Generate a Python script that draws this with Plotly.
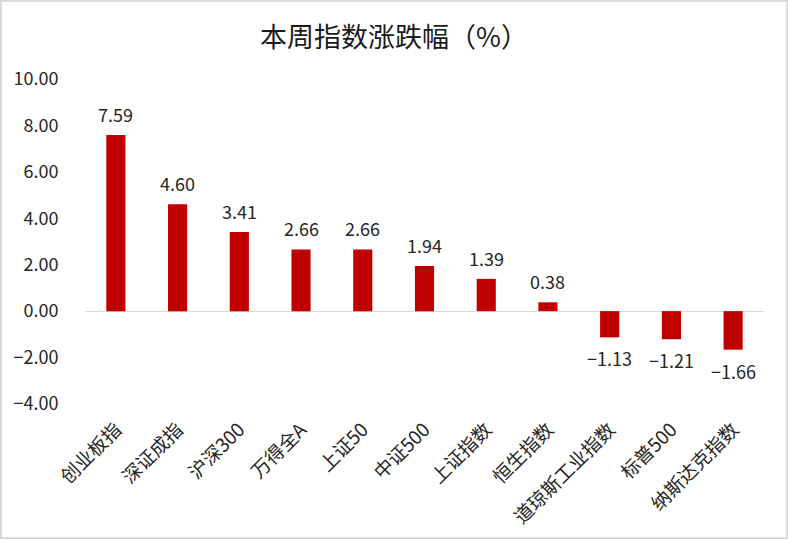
import plotly.graph_objects as go

categories = ["创业板指", "深证成指", "沪深300", "万得全A", "上证50", "中证500",
              "上证指数", "恒生指数", "道琼斯工业指数", "标普500", "纳斯达克指数"]
values = [7.59, 4.60, 3.41, 2.66, 2.66, 1.94, 1.39, 0.38, -1.13, -1.21, -1.66]
y_ticks = [-4, -2, 0, 2, 4, 6, 8, 10]

FONT = "Noto Sans CJK SC, Microsoft YaHei, sans-serif"
NUM_FONT = "Noto Sans CJK SC, sans-serif"

fig = go.Figure()
fig.add_trace(go.Bar(
    x=categories, y=values,
    marker=dict(color="#c00000", line=dict(width=0)),
    width=0.31,
    cliponaxis=False,
))

annotations = [
    dict(x=c, y=v, xref="x", yref="y",
         text=f"{v:.2f}".replace("-", "−"),
         showarrow=False, xanchor="center", yanchor="middle",
         yshift=21 if v >= 0 else -21,
         font=dict(size=18, color="#262626", family=NUM_FONT))
    for c, v in zip(categories, values)
]

L, R, T, B = 85, 24, 79, 135
W, H = 788, 539
pw, ph = W - L - R, H - T - B

fig.update_layout(
    width=W, height=H,
    margin=dict(l=L, r=R, t=T, b=B, autoexpand=False),
    paper_bgcolor="white", plot_bgcolor="white",
    font=dict(family=FONT, color="#262626"),
    title=dict(text="本周指数涨跌幅（%）", x=0.5, xanchor="center",
               y=1 - 38 / H, yanchor="middle",
               font=dict(size=27, color="#1a1a1a", family=FONT)),
    showlegend=False,
    bargap=0.69,
    annotations=annotations,
    xaxis=dict(tickangle=-45, tickfont=dict(size=19, color="#262626", family=FONT),
               showgrid=False, showline=False, ticks="outside", ticklen=6,
               tickcolor="rgba(0,0,0,0)", automargin=False),
    yaxis=dict(range=[-4, 10], tickvals=y_ticks,
               ticktext=[f"{v:.2f}".replace("-", "−") for v in y_ticks],
               tickfont=dict(size=18, color="#262626", family=NUM_FONT),
               showgrid=False, zeroline=True, zerolinecolor="#d9d9d9",
               zerolinewidth=1, ticks="outside", ticklen=22,
               tickcolor="rgba(0,0,0,0)", showline=False, automargin=False),
    shapes=[dict(type="rect", xref="paper", yref="paper",
                 x0=(1 - L) / pw, x1=(W - 1 - L) / pw,
                 y0=(T + ph - (H - 1)) / ph, y1=(T + ph - 1) / ph,
                 line=dict(color="#d9d9d9", width=2), layer="below")],
)

fig.write_html("out.html", config={"displayModeBar": False},
               post_script="document.body.style.margin='0';document.body.style.overflow='hidden';")
